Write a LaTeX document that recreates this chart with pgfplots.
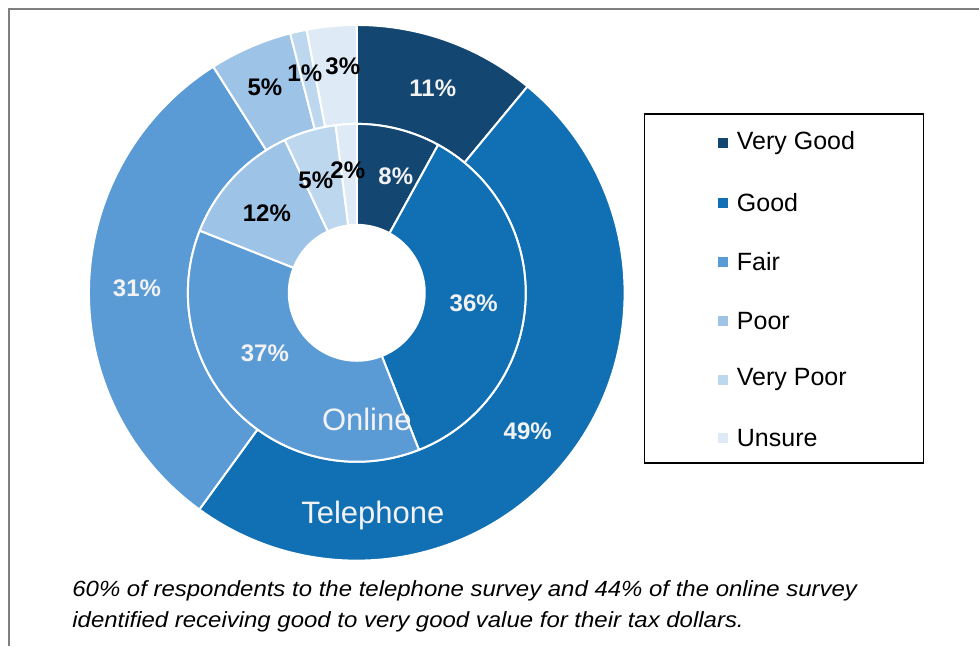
\documentclass[border=0pt]{standalone}
\usepackage{pgfplots}
\pgfplotsset{compat=1.18}
\usepackage{fontspec}
\setmainfont{Liberation Sans}

\definecolor{vgood}{HTML}{134670}
\definecolor{good}{HTML}{1170B4}
\definecolor{fair}{HTML}{5B9BD5}
\definecolor{poor}{HTML}{9DC3E6}
\definecolor{vpoor}{HTML}{BDD7EE}
\definecolor{unsure}{HTML}{DEEBF7}
\definecolor{lbl}{HTML}{F2F2F2}
\definecolor{frame}{HTML}{7F7F7F}

% centre of the rings, in pixel units of the axis
\def\cx{357}
\def\cy{353}

% one ring: #1 inner radius (pt), #2 outer radius (pt), #3 value/colour list
\newcommand\ring[3]{%
  \gdef\angacc{90}%
  \foreach \v/\c in {#3} {%
    \pgfmathsetmacro\aS{\angacc}%
    \pgfmathsetmacro\aE{\angacc-3.6*\v}%
    \edef\doit{\noexpand\fill[\c, draw=white, line width=1pt, line join=round]
      ([shift={(\aS:#2pt)}]axis cs:\cx,\cy) arc[start angle=\aS, end angle=\aE, radius=#2pt]
      -- ([shift={(\aE:#1pt)}]axis cs:\cx,\cy) arc[start angle=\aE, end angle=\aS, radius=#1pt]
      -- cycle;}%
    \doit
    \xdef\angacc{\aE}%
  }%
}

\begin{document}
\begin{tikzpicture}
\begin{axis}[
  scale only axis,
  width=490pt, height=323pt,
  xmin=0, xmax=980, ymin=0, ymax=646,
  hide axis,
  clip=false,
]
\addplot[draw=none, forget plot] coordinates {(0,0) (980,646)};

% telephone (outer) and online (inner)
\ring{84.5}{134}{11/vgood, 49/good, 31/fair, 5/poor, 1/vpoor, 3/unsure}
\ring{34}{84.5}{8/vgood, 36/good, 37/fair, 12/poor, 5/vpoor, 2/unsure}

% value labels
\tikzset{pct/.style={font=\fontsize{12}{12}\selectfont\bfseries, inner sep=0pt}}
\node[pct, lbl]   at (axis cs:433,558) {11\%};
\node[pct, lbl]   at (axis cs:528,214) {49\%};
\node[pct, lbl]   at (axis cs:137,358) {31\%};
\node[pct, black] at (axis cs:265,559) {5\%};
\node[pct, black] at (axis cs:305,573) {1\%};
\node[pct, black] at (axis cs:343,580) {3\%};

\node[pct, lbl]   at (axis cs:396,470) {8\%};
\node[pct, lbl]   at (axis cs:474,343) {36\%};
\node[pct, lbl]   at (axis cs:265,293) {37\%};
\node[pct, black] at (axis cs:267,433) {12\%};
\node[pct, black] at (axis cs:316,466) {5\%};
\node[pct, black] at (axis cs:348,476) {2\%};

\node[lbl, font=\fontsize{15.5}{15.5}\selectfont, inner sep=0pt] at (axis cs:367,226) {Online};
\node[lbl, font=\fontsize{15.5}{15.5}\selectfont, inner sep=0pt] at (axis cs:373,130) {Telephone};

% legend
\draw[black, line width=0.8pt] (axis cs:645,532) rectangle (axis cs:924,183);
\foreach \y/\c/\t in {503/vgood/Very Good, 443/good/Good, 384/fair/Fair,
                      325/poor/Poor, 266/vpoor/Very Poor, 208/unsure/Unsure} {%
  \edef\doit{\noexpand\fill[\c] (axis cs:718,\y-5) rectangle (axis cs:728,\y+5);
    \noexpand\node[anchor=west, font=\noexpand\fontsize{12.5}{12.5}\noexpand\selectfont, inner sep=0pt]
      at (axis cs:737,\y) {\t};}%
  \doit
}

% frame and caption
\draw[frame, line width=0.6pt] (axis cs:9,0) -- (axis cs:9,637) -- (axis cs:980,637);
\node[anchor=west, font=\fontsize{11}{12}\selectfont\itshape, inner sep=0pt]
  at (axis cs:72,55) {\scalebox{1.09}[1]{60\% of respondents to the telephone survey and 44\% of the online survey}};
\node[anchor=west, font=\fontsize{11}{12}\selectfont\itshape, inner sep=0pt]
  at (axis cs:72,24) {\scalebox{1.09}[1]{identified receiving good to very good value for their tax dollars.}};
\end{axis}
\end{tikzpicture}
\end{document}
